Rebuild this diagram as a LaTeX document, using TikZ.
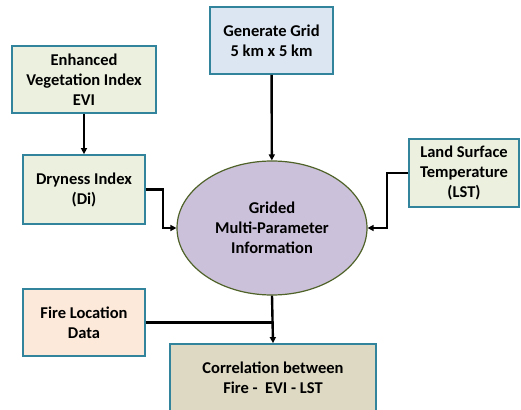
\documentclass[tikz,border=0pt]{standalone}
\usepackage{fontspec}
\setmainfont{Carlito}
\usetikzlibrary{shapes.geometric,arrows.meta}
\definecolor{boxline}{HTML}{31849B}
\definecolor{greenfill}{HTML}{EBF1DE}
\definecolor{bluefill}{HTML}{DCE6F2}
\definecolor{peachfill}{HTML}{FDE9D9}
\definecolor{tanfill}{HTML}{DDD9C3}
\definecolor{lilacfill}{HTML}{CCC1DA}
\definecolor{oliveline}{HTML}{4F6228}
\tikzset{
	box/.style={draw=boxline,line width=1.8pt,align=center,inner sep=0pt,font=\bfseries\fontsize{16.5}{20}\selectfont},
	link/.style={line width=2.4pt,-{Triangle[length=6pt,width=6pt]}},
}
\begin{document}
\begin{tikzpicture}[x=1pt,y=-1pt]
	\useasboundingbox(0,0)rectangle(521,409);
	\node[box,fill=greenfill,minimum width=144,minimum height=67](evi)at(84,79.5){Enhanced\\Vegetation Index\\EVI};
	\node[box,fill=bluefill,minimum width=123,minimum height=67](grid)at(271.5,40.5){Generate Grid\\5 km x 5 km};
	\node[box,fill=greenfill,minimum width=122,minimum height=69](dry)at(84,189.5){Dryness Index\\(Di)};
	\node[box,fill=greenfill,minimum width=110,minimum height=68](lst)at(464,173){Land Surface\\Temperature\\(LST)};
	\node[box,fill=peachfill,minimum width=122,minimum height=67](fire)at(84,322.5){Fire Location\\Data};
	\node[box,fill=tanfill,minimum width=206,minimum height=68](corr)at(273,378){Correlation between\\Fire -\ \ EVI - LST};
	\node[ellipse,draw=oliveline,line width=1.2pt,fill=lilacfill,minimum width=190,minimum height=134,inner sep=0pt,align=center,font=\bfseries\fontsize{16.5}{20}\selectfont](info)at(272,228){Grided\\Multi-Parameter\\Information};
	
	\draw[link](evi)--(dry);
	\draw[link](grid)--(info);
	\draw[link](dry.east)--++(17,0)|-(info.west);
	\draw[link](lst.west)--++(-21,0)|-(info.east);
	\coordinate(join)at(fire.east-|info.south);
	\draw[line width=2.4pt](fire.east)--(join);
	\draw[link](info.south)--(corr.north);
	
\end{tikzpicture}
\end{document}
